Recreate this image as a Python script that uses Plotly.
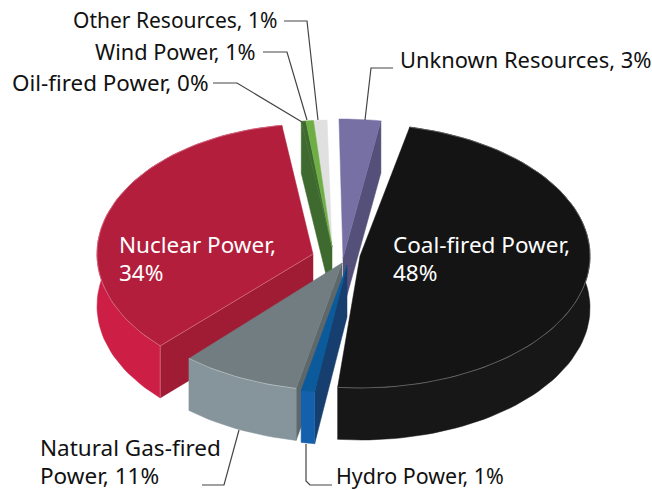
import math
import plotly.graph_objects as go

# Data, clockwise from the top of the pie
categories = ["Unknown Resources", "Coal-fired Power", "Hydro Power", "Natural Gas-fired Power",
              "Nuclear Power", "Oil-fired Power", "Wind Power", "Other Resources"]
values = [3.0, 48.0, 1.0, 11.0, 34.0, 0.2, 1.0, 1.0]

# Layout of each exploded slice in the picture (apex, ellipse radii, perspective nudges in degrees)
apex_x = [343, 360, 347, 342, 313, 332, 332, 332]
apex_y = [258, 256, 265, 263, 254, 247, 247, 247]
radius_x = [230, 230, 230, 230, 216, 216, 216, 216]
radius_y = [139, 132, 128, 128, 130, 127, 127, 127]
nudge_start = [0.5, 3.1, 4.5, 4.3, -2.1, 1.3, 1.8, 0.2]
nudge_end = [0.1, 2.0, 4.3, -5.4, 1.2, 1.8, 0.2, 0.2]
top_colors = ["#7670a5", "#141414", "#0a5a9c", "#717d81", "#b21e3c", "#3f6a2f", "#6fae45", "#e0e0e0"]
wall_colors = ["#54507a", "#171717", "#1560ad", "#85959b", "#cd1f46", "#3f6a2f", "#6fae45", "#d0d0d0"]
side_colors = ["#54507a", None, "#163e6e", "#5e686b", "#a01c35", "#3f6a2f", None, None]
seam_colors = [None, "#8a8a8a", None, "#d3d8da", "#e08a9e", None, None, None]
has_outer_wall = [False, True, True, True, True, False, False, False]
depth = 52
rotation = -1.5
draw_order = [0, 7, 5, 6, 4, 1, 3, 2]

scale = 360.0 / sum(values)
starts, ends, acc = [], [], rotation
for i, v in enumerate(values):
    starts.append(acc + nudge_start[i])
    acc += v * scale
    ends.append(acc + nudge_end[i])

fig = go.Figure()


def poly(pts, color):
    xs = [p[0] for p in pts] + [pts[0][0]]
    ys = [p[1] for p in pts] + [pts[0][1]]
    fig.add_trace(go.Scatter(x=xs, y=ys, mode="lines", fill="toself", fillcolor=color,
                             line=dict(color=color, width=0.5), hoverinfo="skip", showlegend=False))


def seam(pts, color):
    fig.add_trace(go.Scatter(x=[p[0] for p in pts], y=[p[1] for p in pts], mode="lines",
                             line=dict(color=color, width=0.6), hoverinfo="skip", showlegend=False))


for i in draw_order:
    ax, ay = apex_x[i], apex_y[i]
    n = max(4, int((ends[i] - starts[i]) / 2))
    arc = []
    for k in range(n + 1):
        t = math.radians(starts[i] + (ends[i] - starts[i]) * k / n)
        arc.append((ax + radius_x[i] * math.sin(t), ay - radius_y[i] * math.cos(t)))
    low = [(x, y + depth) for x, y in arc]
    apex_low = (ax, ay + depth)
    if side_colors[i]:
        edge = -1 if i == 0 else 0   # which cut face of the slice is turned to the viewer
        poly([arc[edge], low[edge], apex_low, (ax, ay)], side_colors[i])
    if has_outer_wall[i]:
        poly(arc + low[::-1], wall_colors[i])
    poly([(ax, ay)] + arc, top_colors[i])
    if seam_colors[i]:
        seam(arc, seam_colors[i])
    if i == 4:
        seam([(ax, ay), arc[0], low[0]], seam_colors[i])

leaders = [
    [(284, 21), (307, 21), (318, 120)],
    [(263, 52), (287, 52), (307, 120)],
    [(213, 83), (237, 83), (302, 122)],
    [(393, 68), (371, 68), (365, 120)],
    [(202, 485), (224, 485), (239, 430)],
    [(306, 444), (306, 481), (310, 485), (332, 485)],
]
for line in leaders:
    fig.add_trace(go.Scatter(x=[p[0] for p in line], y=[p[1] for p in line], mode="lines",
                             line=dict(color="#444444", width=1.2), hoverinfo="skip", showlegend=False))


def lab(i):
    return f"{categories[i]}, {round(values[i])}%"


# x, y, text, anchor, colour, size
labels = [
    (279, 20, lab(7), "right", "#111111", 21),
    (258, 51, lab(6), "right", "#111111", 21.7),
    (211, 82, lab(5), "right", "#111111", 22.4),
    (398, 59, lab(0), "left", "#111111", 21.9),
    (117, 244, f"{categories[4]},", "left", "#ffffff", 22.5),
    (117, 272, f"{round(values[4])}%", "left", "#ffffff", 22.5),
    (391, 244, f"{categories[1]},", "left", "#ffffff", 22.5),
    (391, 272, f"{round(values[1])}%", "left", "#ffffff", 22.5),
    (38, 447, "Natural Gas-fired", "left", "#111111", 22.5),
    (38, 475, f"Power, {round(values[3])}%", "left", "#111111", 22.5),
    (334, 475, lab(2), "left", "#111111", 21.4),
]
for x, y, text, anchor, color, size in labels:
    fig.add_annotation(x=x, y=y, text=text, showarrow=False, xanchor=anchor, yanchor="middle",
                       align="left", font=dict(family="Noto Sans", size=size, color=color))

fig.update_layout(width=652, height=490, margin=dict(l=0, r=0, t=0, b=0),
                  paper_bgcolor="white", plot_bgcolor="white",
                  xaxis=dict(range=[0, 652], visible=False, fixedrange=True),
                  yaxis=dict(range=[490, 0], visible=False, fixedrange=True))
fig.write_html("out.html", post_script="document.body.style.margin='0';",
               config=dict(displayModeBar=False))
